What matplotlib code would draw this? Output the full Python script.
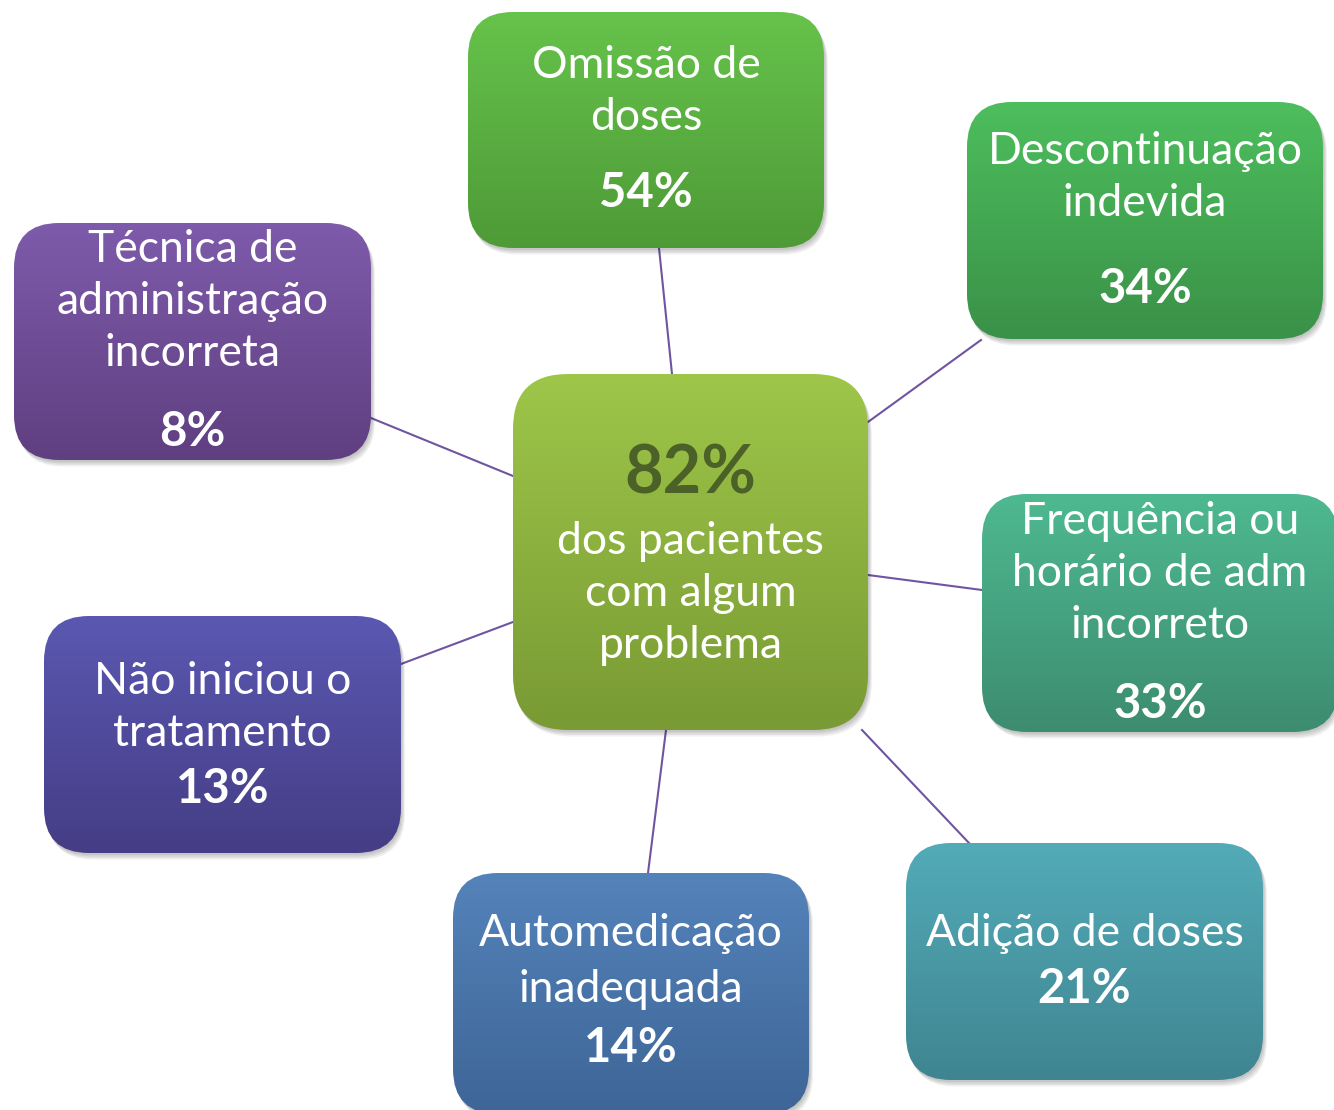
import numpy as np
import matplotlib
matplotlib.use("Agg")
from matplotlib import pyplot as plt
from matplotlib.patches import FancyBboxPatch
from matplotlib.colors import to_rgb

# Data
center_value = "82%"
center_label = ["dos pacientes", "com algum", "problema"]
categories = [
    ["Omissão de", "doses"],
    ["Descontinuação", "indevida"],
    ["Frequência ou", "horário de adm", "incorreto"],
    ["Adição de doses"],
    ["Automedicação", "inadequada"],
    ["Não iniciou o", "tratamento"],
    ["Técnica de", "administração", "incorreta"],
]
percentages = [54, 34, 33, 21, 14, 13, 8]

# Layout (pixels): box, first text line y, line step, percent y, top/bottom colours
boxes = [(468, 12, 824, 248), (967, 102, 1323, 339), (982, 494, 1338, 732),
         (906, 843, 1263, 1080), (453, 873, 809, 1114), (44, 616, 401, 853),
         (14, 223, 371, 460)]
first_line_y = [66, 152, 522, 934, 934, 681, 250]
line_steps = [52, 52, 52, 52, 56, 52, 52]
pct_y = [193, 289, 704, 989, 1048, 789, 432]
top_colors = ["#66c34b", "#4dbe5d", "#4eb991", "#53abb8", "#5483ba", "#5a58b1", "#7e5bab"]
bottom_colors = ["#4e9a37", "#3a9148", "#3d8c70", "#3f8591", "#3e6597", "#453d85", "#5f3f80"]
links = [((672, 374), (659, 248)), ((868, 422), (981, 340)), ((868, 575), (982, 590)),
         ((862, 730), (969, 843)), ((666, 730), (648, 873)), ((513, 622), (401, 664)),
         ((513, 476), (371, 418))]
center_box = (513, 374, 868, 730)

FONT = "Lato"

fig = plt.figure(figsize=(13.34, 11.10), dpi=100)
ax = fig.add_axes([0, 0, 1, 1])
ax.set_xlim(0, 1334)
ax.set_ylim(1110, 0)
ax.axis("off")


def gradient_box(box, c_top, c_bottom, radius):
    x0, y0, x1, y1 = box
    # soft shadow
    for k, a in enumerate([0.06, 0.06, 0.06, 0.06]):
        off = 2 + k * 1.5
        sh = FancyBboxPatch((x0 + radius + off * 0.6, y0 + radius + off),
                            (x1 - x0) - 2 * radius, (y1 - y0) - 2 * radius,
                            boxstyle="round,pad=%d" % radius, fc="black", ec="none",
                            alpha=a, zorder=2)
        ax.add_patch(sh)
    patch = FancyBboxPatch((x0 + radius, y0 + radius), (x1 - x0) - 2 * radius,
                           (y1 - y0) - 2 * radius, boxstyle="round,pad=%d" % radius,
                           fc="none", ec="none", zorder=3)
    ax.add_patch(patch)
    t = np.linspace(0, 1, 256)[:, None, None]
    grad = (1 - t) * np.array(to_rgb(c_top)) + t * np.array(to_rgb(c_bottom))
    im = ax.imshow(grad, extent=(x0, x1, y1, y0), origin="upper", aspect="auto",
                   interpolation="bilinear", zorder=3)
    im.set_clip_path(patch)


# connector lines
for (p, q) in links:
    ax.plot([p[0], q[0]], [p[1], q[1]], color="#7054a0", lw=1.5, zorder=1)

gradient_box(center_box, "#9ec649", "#799a34", 55)
cx = (center_box[0] + center_box[2]) / 2
ax.text(cx, 474, center_value, ha="center", va="center", fontsize=48,
        fontweight="bold", color="#4b6127", family=FONT, zorder=5)
for i, line in enumerate(center_label):
    ax.text(cx, 542 + i * 52, line, ha="center", va="center", fontsize=32,
            color="white", family=FONT, zorder=5)

for i, box in enumerate(boxes):
    gradient_box(box, top_colors[i], bottom_colors[i], 45)
    bx = (box[0] + box[2]) / 2
    for j, line in enumerate(categories[i]):
        ax.text(bx, first_line_y[i] + j * line_steps[i], line, ha="center", va="center",
                fontsize=32, color="white", family=FONT, zorder=5)
    ax.text(bx, pct_y[i], "%d%%" % percentages[i], ha="center", va="center",
            fontsize=34, fontweight="bold", color="white", family=FONT, zorder=5)

ax.set_xlim(0, 1334)
ax.set_ylim(1110, 0)
fig.savefig("out.png", dpi=100, facecolor="white")
